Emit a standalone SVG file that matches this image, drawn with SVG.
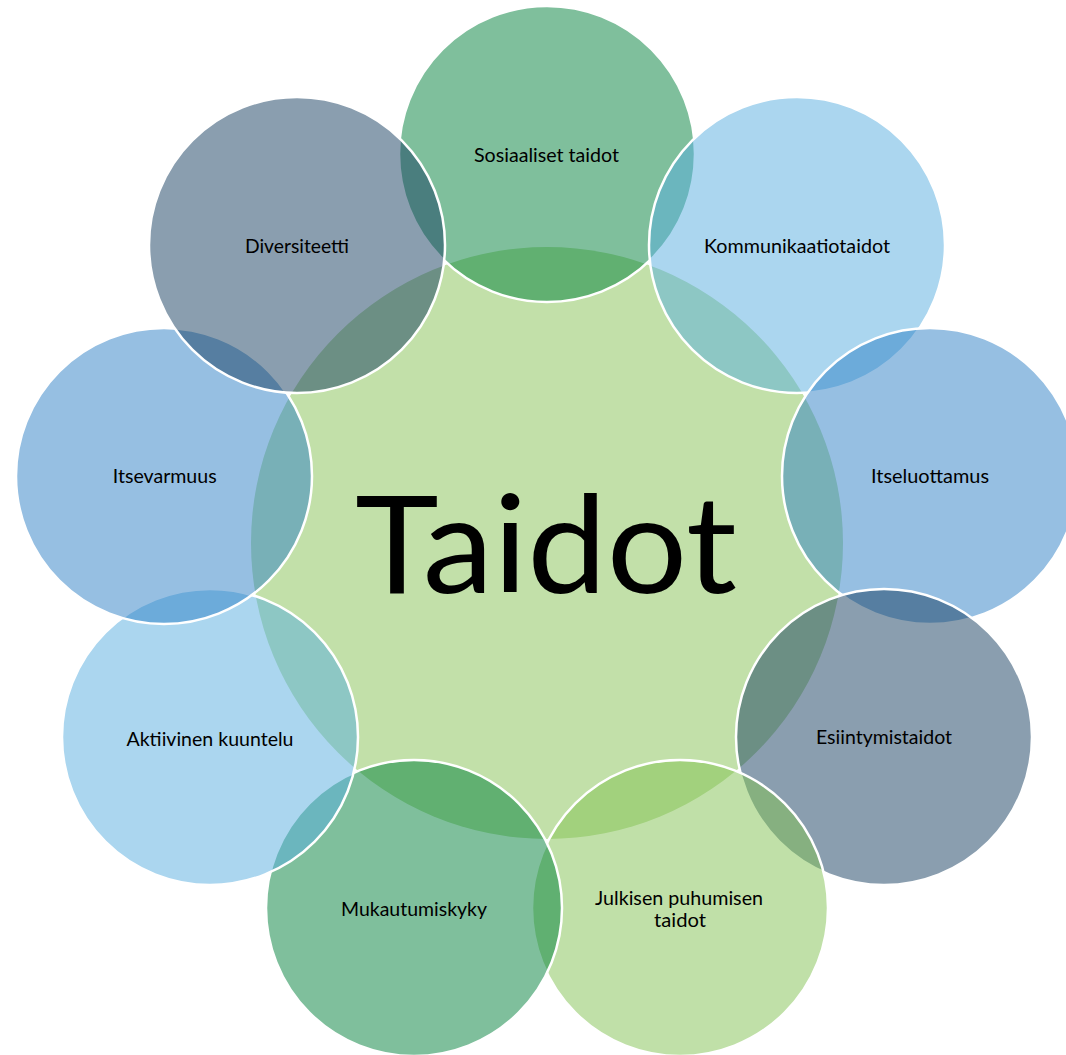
<svg xmlns="http://www.w3.org/2000/svg" width="1066" height="1055" viewBox="0 0 1066 1055">
  <style>
    .c { fill-opacity: 0.5; stroke: #ffffff; stroke-width: 2.5; }
    .green { fill: #007f39; }
    .lblue { fill: #57addf; }
    .mblue { fill: #2d7fc5; }
    .slate { fill: #153d5f; }
    .lgreen { fill: #81c151; }
    .t { font-family: Lato, "Open Sans", "Liberation Sans", sans-serif; font-size: 20px; fill: #000000; text-anchor: middle; }
    .big { font-family: Lato, "Open Sans", "Liberation Sans", sans-serif; font-size: 136px; fill: #000000; text-anchor: middle; }
  </style>
  <rect x="0" y="0" width="1066" height="1055" fill="#ffffff"/>
  <g id="connectors"></g>
  <g id="center">
    <circle cx="547" cy="543" r="296" fill="#c2e0a9"/>
    <text class="big" x="546" y="593" textLength="382" lengthAdjust="spacingAndGlyphs">Taidot</text>
  </g>
  <g id="sosiaaliset">
    <circle class="c green" cx="547" cy="154" r="148"/>
    <text class="t" x="546.5" y="162" textLength="145" lengthAdjust="spacingAndGlyphs">Sosiaaliset taidot</text>
  </g>
  <g id="kommunikaatio">
    <circle class="c lblue" cx="797" cy="245" r="148"/>
    <text class="t" x="797" y="253" textLength="186" lengthAdjust="spacingAndGlyphs">Kommunikaatiotaidot</text>
  </g>
  <g id="itseluottamus">
    <circle class="c mblue" cx="930" cy="476" r="148"/>
    <text class="t" x="930" y="483" textLength="118" lengthAdjust="spacingAndGlyphs">Itseluottamus</text>
  </g>
  <g id="esiintymistaidot">
    <circle class="c slate" cx="884" cy="737" r="148"/>
    <text class="t" x="884" y="744" textLength="136" lengthAdjust="spacingAndGlyphs">Esiintymistaidot</text>
  </g>
  <g id="julkisen">
    <circle class="c lgreen" cx="680" cy="908" r="148"/>
    <text class="t" x="679" y="905" textLength="168" lengthAdjust="spacingAndGlyphs">Julkisen puhumisen</text>
    <text class="t" x="680" y="927" textLength="52" lengthAdjust="spacingAndGlyphs">taidot</text>
  </g>
  <g id="mukautumiskyky">
    <circle class="c green" cx="414" cy="908" r="148"/>
    <text class="t" x="414" y="916" textLength="146" lengthAdjust="spacingAndGlyphs">Mukautumiskyky</text>
  </g>
  <g id="aktiivinen">
    <circle class="c lblue" cx="210" cy="737" r="148"/>
    <text class="t" x="210" y="746" textLength="167" lengthAdjust="spacingAndGlyphs">Aktiivinen kuuntelu</text>
  </g>
  <g id="itsevarmuus">
    <circle class="c mblue" cx="164" cy="476" r="148"/>
    <text class="t" x="164.7" y="483" textLength="104" lengthAdjust="spacingAndGlyphs">Itsevarmuus</text>
  </g>
  <g id="diversiteetti">
    <circle class="c slate" cx="297" cy="245" r="148"/>
    <text class="t" x="297" y="253" textLength="104" lengthAdjust="spacingAndGlyphs">Diversiteetti</text>
  </g>
</svg>
